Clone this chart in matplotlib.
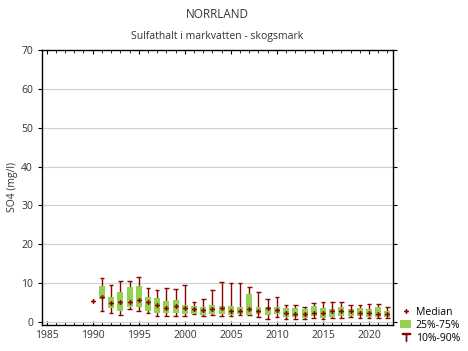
import matplotlib

matplotlib.use("Agg")
import matplotlib.pyplot as plt
from matplotlib.lines import Line2D
from matplotlib.patches import Patch

years = list(range(1991, 2023))
p10 = [2.8, 2.2, 1.8, 3.3, 2.9, 2.2, 1.5, 1.5, 1.5, 1.5, 2.1, 1.5, 1.8, 1.5, 1.5, 1.8,
       1.8, 1.2, 0.8, 1.2, 0.8, 0.8, 0.8, 1.0, 0.8, 1.0, 1.0, 1.2, 1.0, 1.0, 1.0, 1.0]
p25 = [5.8, 3.5, 2.9, 3.9, 3.9, 2.9, 2.4, 2.2, 2.4, 2.1, 2.0, 1.8, 2.0, 2.0, 1.8, 2.0,
       1.9, 2.0, 1.8, 2.0, 1.2, 1.2, 1.1, 1.4, 1.1, 1.2, 1.4, 1.4, 1.4, 1.2, 1.2, 1.2]
medians = [6.4, 4.8, 5.0, 5.2, 5.7, 5.2, 4.4, 3.7, 4.2, 3.5, 3.3, 3.1, 3.3, 3.5, 2.9, 2.9,
           3.2, 2.7, 3.5, 3.1, 2.2, 2.1, 2.1, 2.2, 2.2, 2.7, 2.7, 2.7, 2.2, 2.2, 2.1, 2.0]
p75 = [9.3, 6.3, 7.6, 8.9, 9.3, 6.4, 6.1, 5.4, 5.7, 4.4, 4.1, 3.9, 4.4, 4.1, 4.1, 3.9,
       7.2, 3.9, 3.9, 3.8, 3.5, 3.5, 3.3, 4.1, 3.5, 3.3, 3.8, 3.3, 3.7, 3.3, 3.8, 2.8]
p90 = [11.2, 9.5, 10.6, 10.6, 11.5, 8.7, 8.2, 8.7, 8.4, 9.5, 5.1, 5.8, 8.2, 10.2, 9.9, 9.9,
       8.9, 7.6, 5.8, 6.4, 4.4, 4.4, 3.8, 4.8, 5.1, 5.1, 5.1, 4.4, 4.4, 4.6, 4.6, 3.8]

# 1990 has only a single value
single_year = [1990]
single_value = [5.4]

green = "#92d050"
red = "#8b0000"
text_col = "#333333"

plt.rcParams["font.family"] = ["Open Sans", "DejaVu Sans"]
plt.rcParams["font.size"] = 7.5

fig = plt.figure(figsize=(4.68, 3.51), dpi=100)
ax = fig.add_axes([42 / 468, 1 - 325 / 351, 351 / 468, 275 / 351])

for y, lo, q1, med, q3, hi in zip(years, p10, p25, medians, p75, p90):
    ax.vlines(y, lo, hi, color=red, lw=1.0, zorder=2)
    ax.hlines([lo, hi], y - 0.25, y + 0.25, color=red, lw=1.0, zorder=2)
    ax.bar(y, q3 - q1, bottom=q1, width=0.65, color=green, zorder=3)
ax.plot(years, medians, "P", color=red, ms=3.5, mew=0, zorder=4)
ax.plot(single_year, single_value, "P", color=red, ms=3.5, mew=0, zorder=4)

ax.set_xlim(1984.5, 2022.6)
ax.set_ylim(-0.8, 70)
ax.set_xticks(range(1985, 2021, 5))
ax.set_xticks(range(1985, 2023), minor=True)
ax.set_yticks(range(0, 71, 10))
ax.yaxis.grid(True, color="#d0d0d0", lw=0.8)
ax.set_axisbelow(True)
ax.tick_params(axis="x", which="both", direction="in", top=True, length=3, colors="black",
               labelcolor=text_col, labelsize=7.5)
ax.tick_params(axis="x", which="minor", length=2)
ax.tick_params(axis="y", direction="out", right=True, length=3, labelcolor=text_col, labelsize=7.5)
for s in ax.spines.values():
    s.set_linewidth(1.0)

ax.set_ylabel("SO4 (mg/l)", color=text_col, fontsize=7.5, labelpad=2)

fig.text(0.5 * (42 + 393) / 468 + 0.0, 1 - 15 / 351, "NORRLAND", ha="center", va="center",
         fontsize=8.5, color=text_col)
fig.text(0.5 * (42 + 393) / 468 + 0.0, 1 - 37 / 351, "Sulfathalt i markvatten - skogsmark",
         ha="center", va="center", fontsize=7.5, color=text_col)

handles = [
    Line2D([], [], marker="P", color=red, ls="none", ms=3.5, mew=0),
    Patch(facecolor=green),
    Line2D([], [], marker="$\u22a4$", color=red, ls="none", ms=6),
]
fig.legend(handles, ["Median", "25%-75%", "10%-90%"], loc="lower left",
           bbox_to_anchor=(393 / 468, 0.0), frameon=False, fontsize=7.5,
           handlelength=1.0, handletextpad=0.5, labelspacing=0.2, borderaxespad=0.3)

fig.savefig("out.png", dpi=100)
